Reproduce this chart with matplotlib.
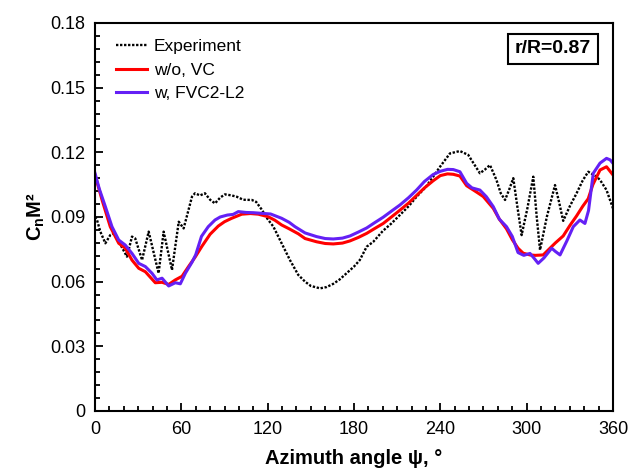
import numpy as np
import matplotlib
matplotlib.use('Agg')
from matplotlib import pyplot as plt
from matplotlib.ticker import MultipleLocator

plt.rcParams['font.family'] = ['Liberation Sans', 'DejaVu Sans']
plt.rcParams['mathtext.fontset'] = 'custom'
plt.rcParams['mathtext.rm'] = 'Liberation Sans:bold'
plt.rcParams['mathtext.default'] = 'rm'

# 실험 데이터 (Experiment)
exp_psi = [0, 1.4, 3.7, 7.2, 10.6, 13, 17, 22.2, 25.7, 28, 32.7, 37.3, 44.2, 47.7,
           53.5, 58.2, 61.6, 67.4, 69.5, 73, 76.4, 80, 83.4, 87, 90.3, 95, 98.5,
           103, 109, 112, 115.8, 120, 124, 129.7, 135.5, 141.3, 146, 150, 156.4,
           161, 165.6, 170, 175, 180, 184, 188.8, 193.4, 200, 206, 212, 218,
           223.5, 230, 235, 240, 246.7, 253.6, 259.4, 263, 267.5, 271, 274.5,
           279, 282, 285, 288, 290.7, 293.5, 296.5, 300.5, 304.6, 307, 309.3,
           314, 319.7, 322.5, 325.4, 330, 334.7, 339, 342.8, 348.6, 351, 355.5, 360]
exp_val = [0.090, 0.0886, 0.0832, 0.0778, 0.0816, 0.0824, 0.078, 0.0716, 0.0809,
           0.080, 0.070, 0.0832, 0.0639, 0.0832, 0.0654, 0.0878, 0.0847, 0.0994,
           0.101, 0.100, 0.101, 0.098, 0.0963, 0.099, 0.1005, 0.100, 0.0994,
           0.098, 0.0979, 0.097, 0.0935, 0.089, 0.0855, 0.0778, 0.070, 0.0631,
           0.060, 0.058, 0.0569, 0.0575, 0.059, 0.061, 0.064, 0.067, 0.070,
           0.0762, 0.0785, 0.0835, 0.087, 0.091, 0.095, 0.0994, 0.104, 0.1087,
           0.1135, 0.1195, 0.1206, 0.1188, 0.115, 0.1103, 0.112, 0.1141, 0.1072,
           0.101, 0.0979, 0.103, 0.108, 0.095, 0.0816, 0.094, 0.1087, 0.090,
           0.0747, 0.090, 0.1048, 0.097, 0.0882, 0.095, 0.101, 0.107, 0.111,
           0.1087, 0.1072, 0.1025, 0.094]

# w/o VC
novc_psi = [0, 4.9, 10.6, 16.5, 21, 25.7, 30.4, 35, 38.5, 41.9, 46.6, 51.2, 55.8,
            60.5, 65, 69.7, 74.4, 80, 85.7, 90, 95, 102, 108, 113.5, 120.4, 125,
            129.7, 135, 141.3, 146, 154, 160, 165.6, 172, 177.2, 183, 188.8, 194,
            200.3, 206, 212, 218, 223.5, 229, 235, 240, 245, 249, 253.6, 258.3,
            263, 266, 269.8, 276.8, 281, 286, 290, 294, 297.6, 302.3, 306, 311.5,
            316.2, 320, 325.4, 330, 334.7, 339, 342.8, 346, 351, 355.5, 360]
novc_val = [0.1095, 0.0979, 0.0855, 0.0778, 0.0755, 0.070, 0.0662, 0.0646, 0.062,
            0.0595, 0.0597, 0.0587, 0.0608, 0.0625, 0.067, 0.0715, 0.0765, 0.082,
            0.0858, 0.0878, 0.0894, 0.0913, 0.0916, 0.0913, 0.0901, 0.0885,
            0.0863, 0.0845, 0.0822, 0.080, 0.0785, 0.0777, 0.0775, 0.0779,
            0.0789, 0.0805, 0.0824, 0.0845, 0.087, 0.090, 0.0932, 0.0965, 0.100,
            0.1035, 0.1068, 0.1092, 0.110, 0.1098, 0.109, 0.1045, 0.1025, 0.1012,
            0.0995, 0.094, 0.089, 0.0845, 0.0795, 0.0755, 0.0732, 0.0724, 0.0722,
            0.0724, 0.0755, 0.078, 0.0812, 0.086, 0.0905, 0.095, 0.0985, 0.105,
            0.1118, 0.1133, 0.1095]

# w, FVC2-L2
fvc_psi = [0, 3, 7.2, 11.8, 16.5, 21, 25.7, 30.4, 35, 39.6, 43, 46.6, 51.2, 55.8,
           59.3, 62.8, 67.4, 70, 74, 78.7, 83.4, 87, 92, 96, 99.6, 105, 110,
           115.8, 122, 129.7, 135, 139, 146, 154, 160, 165.6, 172, 177.2, 183,
           188.8, 194, 200.3, 206, 212, 218, 223.5, 229, 235, 240, 245, 249,
           253.6, 258.3, 262, 267.5, 272, 276.8, 281, 286, 290, 294, 298, 302.3,
           305, 308, 312, 317.4, 320, 323.2, 328, 332.4, 337, 340.5, 343, 346.3,
           351, 355.5, 358, 360]
fvc_val = [0.1103, 0.103, 0.0948, 0.0855, 0.0793, 0.077, 0.0731, 0.0685, 0.067,
           0.0639, 0.0608, 0.0616, 0.058, 0.0595, 0.059, 0.0639, 0.069, 0.0725,
           0.081, 0.0855, 0.0886, 0.090, 0.0909, 0.0912, 0.0925, 0.0921, 0.092,
           0.0917, 0.0914, 0.0894, 0.0875, 0.0855, 0.0826, 0.0809, 0.080, 0.0798,
           0.0802, 0.0812, 0.083, 0.0849, 0.0872, 0.0899, 0.0927, 0.0956, 0.099,
           0.1025, 0.1065, 0.1097, 0.1112, 0.1121, 0.112, 0.111, 0.1056, 0.1035,
           0.1025, 0.0994, 0.0948, 0.089, 0.0855, 0.081, 0.0735, 0.0722, 0.0731,
           0.071, 0.0685, 0.071, 0.0755, 0.074, 0.0724, 0.079, 0.0855, 0.0886,
           0.087, 0.093, 0.1103, 0.115, 0.1172, 0.1165, 0.1149]

y_ticks = [0, 0.03, 0.06, 0.09, 0.12, 0.15, 0.18]
y_ticklabels = ['0', '0.03', '0.06', '0.09', '0.12', '0.15', '0.18']

fig = plt.figure(figsize=(6.3, 4.71), dpi=100)
ax = fig.add_axes([0.1508, 0.1274, 0.8222, 0.8238])

ax.plot(exp_psi, exp_val, color='black', linewidth=1.7,
        linestyle=(0, (1, 0.7)), label='Experiment')
ax.plot(novc_psi, novc_val, color='#ff0000', linewidth=2.2, label='w/o, VC')
ax.plot(fvc_psi, fvc_val, color='#6420f5', linewidth=2.2, label='w, FVC2-L2')

ax.set_xlim(0, 360)
ax.set_ylim(0, 0.18)
ax.xaxis.set_major_locator(MultipleLocator(60))
ax.xaxis.set_minor_locator(MultipleLocator(10))
ax.yaxis.set_minor_locator(MultipleLocator(0.006))
ax.set_yticks(y_ticks)
ax.set_yticklabels(y_ticklabels)
ax.tick_params(which='both', direction='in', top=False, right=False,
               labelsize=13, width=1.3)
ax.tick_params(which='major', length=6, pad=7)
ax.tick_params(which='minor', length=3.5)
for s in ax.spines.values():
    s.set_linewidth(1.5)

ax.set_xlabel('Azimuth angle ψ, °', fontsize=14.5, fontweight='bold', labelpad=8)
ax.set_ylabel('C$_n$M²', fontsize=14.5, fontweight='bold', labelpad=2)

leg = ax.legend(loc='upper left', frameon=False, fontsize=12.5,
                handlelength=1.8, handletextpad=0.4, labelspacing=0.5,
                bbox_to_anchor=(0.01, 1.0))

ax.text(0.884, 0.933, 'r/R=0.87', transform=ax.transAxes, fontsize=14,
        fontweight='bold', ha='center', va='center',
        bbox=dict(boxstyle='square,pad=0.35', facecolor='white',
                  edgecolor='black', linewidth=1.5))

plt.savefig('out.png', dpi=100)
